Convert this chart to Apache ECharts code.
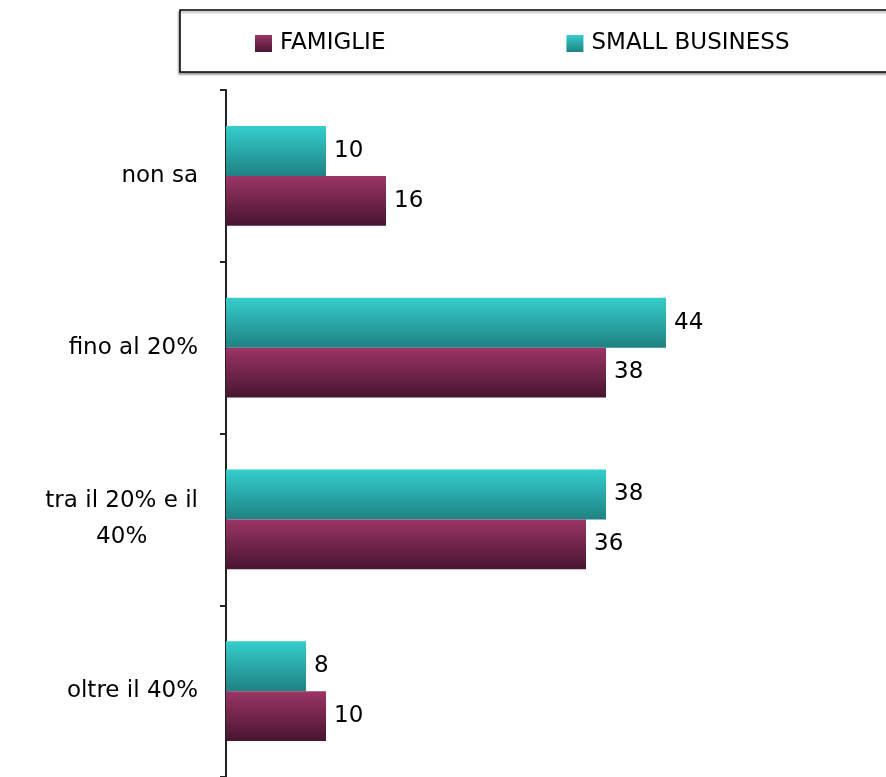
<!DOCTYPE html>
<html>
<head>
<meta charset="utf-8">
<script src="https://cdn.jsdelivr.net/npm/echarts@6/dist/echarts.min.js"></script>
<style>
  html, body { margin: 0; padding: 0; background: #fff; }
  #chart { width: 886px; height: 777px; }
</style>
</head>
<body>
<div id="chart"></div>
<script>
// categories top to bottom
var categories = ["non sa", "fino al 20%", "tra il 20% e il\n40%", "oltre il 40%"];
var famiglie = [16, 38, 36, 10];
var smallBusiness = [10, 44, 38, 8];
var legendNames = ["FAMIGLIE", "SMALL BUSINESS"];

var font = "Verdana, 'DejaVu Sans', sans-serif";

function barGradient(top, bottom) {
  return new echarts.graphic.LinearGradient(0, 0, 0, 1, [
    { offset: 0, color: top },
    { offset: 1, color: bottom }
  ]);
}

var chart = echarts.init(document.getElementById("chart"));

var labelStyle = {
  show: true,
  position: "right",
  distance: 8,
  color: "#000",
  fontSize: 23,
  fontFamily: font
};

chart.setOption({
  animation: false,
  graphic: [
    {
      type: "rect",
      shape: { x: 180, y: 10, width: 720, height: 62 },
      style: {
        fill: "#fff",
        stroke: "#000",
        lineWidth: 1.5,
        shadowColor: "rgba(0,0,0,0.35)",
        shadowBlur: 2,
        shadowOffsetX: -1,
        shadowOffsetY: 2
      },
      z: -1
    }
  ],
  legend: {
    data: legendNames,
    left: 255,
    top: 32,
    padding: 0,
    itemWidth: 17,
    itemHeight: 17,
    itemGap: 181,
    icon: "rect",
    textStyle: { fontSize: 23, color: "#000", fontFamily: font, padding: [0, 0, 0, 3] }
  },
  grid: {
    left: 226,
    right: 60,
    top: 90,
    bottom: 0,
    containLabel: false
  },
  xAxis: {
    type: "value",
    min: 0,
    max: 60,
    show: false
  },
  yAxis: {
    type: "category",
    inverse: true,
    data: categories,
    axisLine: { show: true, lineStyle: { color: "#222", width: 2 } },
    axisTick: { show: true, length: 6, inside: false, lineStyle: { color: "#222", width: 2 } },
    axisLabel: {
      margin: 28,
      color: "#000",
      fontSize: 23,
      fontFamily: font,
      formatter: function (v) {
        if (v.indexOf("\n") >= 0) {
          return v.split("\n").map(function (s) { return "{c|" + s + "}"; }).join("\n");
        }
        return v;
      },
      rich: {
        c: { align: "center", fontSize: 23, fontFamily: font, color: "#000", lineHeight: 36 }
      }
    },
    splitLine: { show: false }
  },
  series: [
    {
      name: "SMALL BUSINESS",
      type: "bar",
      data: smallBusiness,
      barGap: "0%",
      barCategoryGap: "42%",
      itemStyle: { color: barGradient("#35cdcd", "#1f8282") },
      label: labelStyle
    },
    {
      name: "FAMIGLIE",
      type: "bar",
      data: famiglie,
      barGap: "0%",
      barCategoryGap: "42%",
      itemStyle: { color: barGradient("#9c3566", "#481530") },
      label: labelStyle
    }
  ]
});
</script>
</body>
</html>
